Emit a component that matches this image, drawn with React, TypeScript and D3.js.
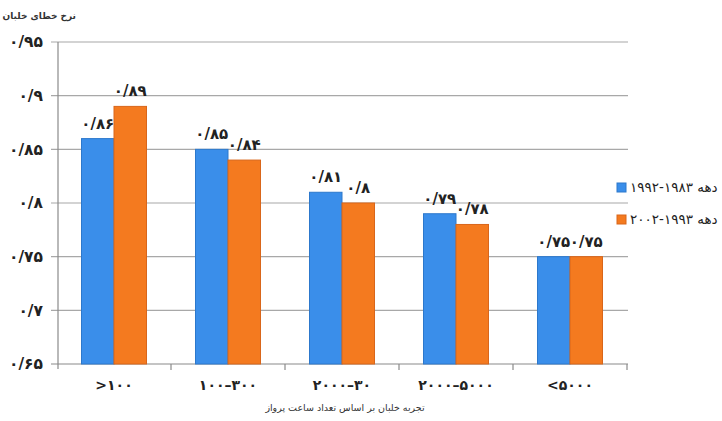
import React from "react";
import * as d3 from "d3";

// Pilot error rate by flight-hour experience, two decades
const categories = [">۱۰۰", "۱۰۰–۳۰۰", "۲۰۰۰–۳۰", "۲۰۰۰–۵۰۰۰", "<۵۰۰۰"];
const seriesNames = ["دهه ۱۹۸۳-۱۹۹۲", "دهه ۱۹۹۳-۲۰۰۲"];
const decade1 = [0.86, 0.85, 0.81, 0.79, 0.75];
const decade2 = [0.89, 0.84, 0.8, 0.78, 0.75];
const yTicks = [0.65, 0.7, 0.75, 0.8, 0.85, 0.9, 0.95];
const colors = ["#3a8eea", "#f47a1f"];
const strokes = ["#2c78cc", "#d9661a"];
const yTitle = "نرخ خطای خلبان";
const xTitle = "تجربه خلبان بر اساس تعداد ساعت پرواز";

const W = 722;
const H = 421;
const left = 57;
const right = 627;
const top = 42;
const bottom = 364;

const faDigits = "۰۱۲۳۴۵۶۷۸۹";
const toFa = (v: number) =>
  String(+v.toFixed(2))
    .replace(".", "/")
    .replace(/[0-9]/g, (d) => faDigits[+d]);

export default function App() {
  const x = d3.scaleBand<string>().domain(categories).range([left, right]).padding(0);
  const y = d3.scaleLinear().domain([0.65, 0.95]).range([bottom, top]);
  const groupW = 65;
  const inner = d3.scaleBand<string>().domain(seriesNames).range([0, groupW]).padding(0);
  const series = [decade1, decade2];
  const font = "'DejaVu Sans', sans-serif";

  return (
    <svg
      width={W}
      height={H}
      style={{ position: "absolute", left: 0, top: 0, background: "#fff" }}
      fontFamily={font}
    >
      {/* gridlines and y ticks */}
      {yTicks.map((t) => (
        <g key={t}>
          <line
            x1={51}
            x2={right + 1}
            y1={y(t)}
            y2={y(t)}
            stroke={t === 0.65 ? "#8a8a8a" : "#a8a8a8"}
            strokeWidth={1.2}
          />
          <text
            x={43}
            y={y(t)}
            dy="0.35em"
            textAnchor="end"
            fontSize={15.5}
            fontWeight="bold"
            fill="#222"
          >
            {toFa(t)}
          </text>
        </g>
      ))}
      {/* y axis */}
      <line x1={left + 1} x2={left + 1} y1={top} y2={bottom + 5} stroke="#8a8a8a" strokeWidth={1.2} />
      {/* x tick marks at category boundaries */}
      {categories.map((c) => (
        <line
          key={c}
          x1={x(c)! + x.bandwidth()}
          x2={x(c)! + x.bandwidth()}
          y1={bottom}
          y2={bottom + 6}
          stroke="#8a8a8a"
          strokeWidth={1.2}
        />
      ))}
      {/* bars */}
      {series.map((vals, si) =>
        vals.map((v, i) => {
          const cx = x(categories[i])! + x.bandwidth() / 2 - groupW / 2 + inner(seriesNames[si])!;
          return (
            <rect
              key={`${si}-${i}`}
              x={cx}
              y={y(v)}
              width={inner.bandwidth()}
              height={bottom - y(v)}
              fill={colors[si]}
              stroke={strokes[si]}
              strokeWidth={1}
            />
          );
        })
      )}
      {/* value labels */}
      {series.map((vals, si) =>
        vals.map((v, i) => {
          const cx =
            x(categories[i])! + x.bandwidth() / 2 - groupW / 2 + inner(seriesNames[si])! + inner.bandwidth() / 2;
          return (
            <text
              key={`l${si}-${i}`}
              x={cx}
              y={y(v) - 10}
              textAnchor="middle"
              fontSize={15}
              fontWeight="bold"
              fill="#222"
            >
              {toFa(v)}
            </text>
          );
        })
      )}
      {/* category labels */}
      {categories.map((c) => (
        <text
          key={c}
          x={x(c)! + x.bandwidth() / 2}
          y={390}
          textAnchor="middle"
          fontSize={14}
          fontWeight="bold"
          fill="#222"
        >
          {c}
        </text>
      ))}
      {/* legend */}
      {seriesNames.map((s, i) => (
        <g key={s}>
          <rect x={617} y={183 + i * 32} width={9} height={9} fill={colors[i]} stroke={strokes[i]} />
          <text x={630} y={192 + i * 32} fontSize={13.5} fill="#222">
            {s}
          </text>
        </g>
      ))}
      {/* axis titles */}
      <text x={76} y={19} textAnchor="end" fontSize={9} fontWeight="bold" fill="#333">
        {yTitle}
      </text>
      <text x={345} y={411} textAnchor="middle" fontSize={9.5} fill="#333">
        {xTitle}
      </text>
    </svg>
  );
}
